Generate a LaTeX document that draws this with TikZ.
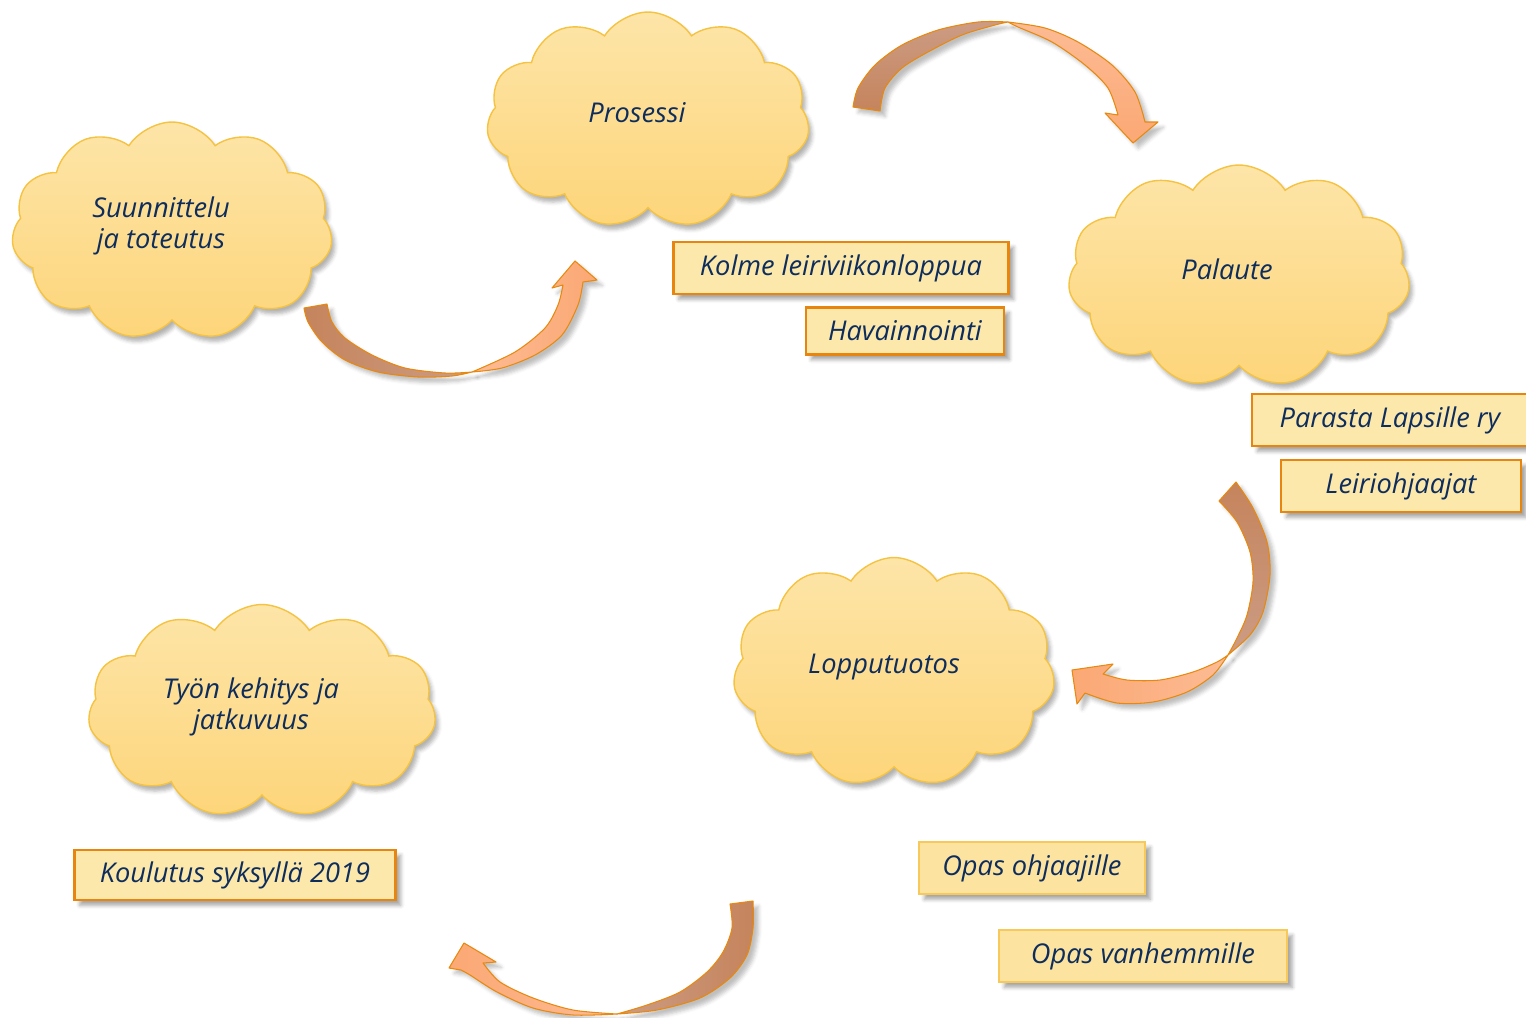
\documentclass[tikz,border=0pt]{standalone}
\usepackage{fontspec}
\setmainfont{Open Sans}
\usetikzlibrary{shapes.symbols, shadows.blur}
\definecolor{cloudtop}{HTML}{FDE5A8}
\definecolor{cloudbot}{HTML}{FDD57A}
\definecolor{cloudedge}{HTML}{F5C342}
\definecolor{textnavy}{HTML}{0E2D5C}
\definecolor{tagfill}{HTML}{FCE8AB}
\definecolor{tagedge}{HTML}{E8850F}
\definecolor{softfill}{HTML}{FCE3A0}
\definecolor{softedge}{HTML}{F7C95B}
\definecolor{arrdark}{HTML}{C5845C}
\definecolor{arrdarkb}{HTML}{CC9C84}
\definecolor{arrlight}{HTML}{FCBB94}
\definecolor{arrlightb}{HTML}{FBA874}
\definecolor{arredge}{HTML}{E8890E}

\begin{document}
\begin{tikzpicture}[x=0.02cm, y=-0.02cm,
    puff/.style={cloud, cloud puffs=11, cloud puff arc=115, draw=cloudedge, line width=0.8pt,
      top color=cloudtop, bottom color=cloudbot,
      blur shadow={shadow xshift=2pt, shadow yshift=-3pt, shadow opacity=30}},
    pufftext/.style={align=center, text=textnavy, font=\fontsize{15.5}{17.6}\selectfont\itshape},
    tag/.style={draw=tagedge, line width=1.6pt, fill=tagfill, text=textnavy,
      font=\fontsize{15.5}{17}\selectfont\itshape, minimum height=1.04cm,
      blur shadow={shadow xshift=3pt, shadow yshift=-3pt, shadow opacity=35}},
    softtag/.style={tag, draw=softedge, line width=1pt, fill=softfill},
    bandarrow/.style={draw=arredge, line width=0.6pt, line join=round,
      blur shadow={shadow xshift=3pt, shadow yshift=-3pt, shadow opacity=25}}]
    \useasboundingbox (0,0) rectangle (1526,1018);

    % clouds
    \node (suun) [puff, minimum width=6.42cm, minimum height=4.36cm] at (172,231) {};
    \node (pros) [puff, minimum width=6.46cm, minimum height=4.32cm] at (648,120) {};
    \node (pala) [puff, minimum width=6.84cm, minimum height=4.44cm] at (1239,276) {};
    \node (lopp) [puff, minimum width=6.44cm, minimum height=4.58cm] at (894,672) {};
    \node (tyon) [puff, minimum width=6.96cm, minimum height=4.26cm] at (262,711) {};
    \node (suuntxt) [pufftext] at (161,226) {Suunnittelu\\ja toteutus};
    \node (prostxt) [pufftext] at (637,113) {Prosessi};
    \node (palatxt) [pufftext] at (1227,269) {Palaute};
    \node (lopptxt) [pufftext] at (884,667) {Lopputuotos};
    \node (tyontxt) [pufftext] at (251,707) {Työn kehitys ja\\jatkuvuus};

    % boxes
    \node (kolm) [tag, minimum width=6.7cm] at (841,268) {Kolme leiriviikonloppua};
    \node (hava) [tag, minimum width=3.96cm, minimum height=0.94cm] at (905,331) {Havainnointi};
    \node (para) [tag, minimum width=5.52cm] at (1390,420) {Parasta Lapsille ry};
    \node (leir) [tag, minimum width=4.8cm] at (1401,486) {Leiriohjaajat};
    \node (koul) [tag, minimum width=6.42cm, minimum height=1.0cm] at (235,875) {Koulutus syksyllä 2019};
    \node (opoh) [softtag, minimum width=4.52cm] at (1032,868) {Opas ohjaajille};
    \node (opva) [softtag, minimum width=5.76cm] at (1143,956) {Opas vanhemmille};

    % arrow 1: suunnittelu -> prosessi
    \draw[bandarrow, left color=arrdark, right color=arrdarkb] (304,308) -- (327,304)
      -- plot[smooth] coordinates {(327,304) (332,322) (345,338) (372,355) (405,368) (445,373) (472,372)}
      -- plot[smooth] coordinates {(472,372) (452,376) (418,377) (378,372) (345,360) (322,342) (308,322) (304,308)} -- cycle;
    \draw[bandarrow, left color=arrlight, right color=arrlightb] (472,372)
      -- plot[smooth] coordinates {(472,372) (502,368) (535,355) (562,335) (578,305) (583,282)}
      -- (597,280) -- (575,261) -- (552,288) -- (563,285)
      -- plot[smooth] coordinates {(563,285) (558,305) (545,328) (515,352) (472,372)} -- cycle;
    % arrow 2: prosessi -> palaute
    \draw[bandarrow, top color=arrdarkb, bottom color=arrdark] (853,107) -- (880,111)
      -- plot[smooth] coordinates {(880,111) (885,88) (902,68) (928,52) (962,35) (995,25) (1008,22)}
      -- plot[smooth] coordinates {(1008,22) (978,22) (938,30) (902,45) (875,65) (858,88) (853,107)} -- cycle;
    \draw[bandarrow, top color=arrlight, bottom color=arrlightb] (1008,22)
      -- plot[smooth] coordinates {(1008,22) (1045,28) (1078,42) (1112,65) (1135,92) (1145,122)}
      -- (1158,122) -- (1133,143) -- (1105,113) -- (1118,115)
      -- plot[smooth] coordinates {(1118,115) (1108,88) (1085,65) (1052,42) (1018,27) (1008,22)} -- cycle;
    % arrow 3: palaute -> lopputuotos
    \draw[bandarrow, top color=arrdark, bottom color=arrdarkb] (1219,501) -- (1236,482)
      -- plot[smooth] coordinates {(1236,482) (1253,508) (1267,542) (1270,575) (1263,612) (1250,635) (1228,655)}
      -- plot[smooth] coordinates {(1228,655) (1237,638) (1247,615) (1253,582) (1250,552) (1237,522) (1219,501)} -- cycle;
    \draw[bandarrow, right color=arrlight, left color=arrlightb] (1228,655)
      -- plot[smooth] coordinates {(1228,655) (1213,675) (1187,692) (1153,702) (1117,703) (1085,693)}
      -- (1077,704) -- (1072,670) -- (1113,664) -- (1103,674)
      -- plot[smooth] coordinates {(1103,674) (1127,680) (1160,680) (1193,672) (1217,662) (1228,655)} -- cycle;
    % arrow 4: lopputuotos -> tyon kehitys
    \draw[bandarrow, right color=arrdark, left color=arrdarkb] (730,904) -- (753,901)
      -- plot[smooth] coordinates {(753,901) (753,928) (747,955) (730,978) (700,998) (657,1010) (617,1014)}
      -- plot[smooth] coordinates {(617,1014) (647,1005) (680,992) (707,972) (723,952) (732,928) (730,904)} -- cycle;
    \draw[bandarrow, right color=arrlight, left color=arrlightb] (617,1014)
      -- plot[smooth] coordinates {(617,1014) (573,1015) (533,1008) (497,992) (470,975) (461,970)}
      -- (449,968) -- (464,943) -- (496,962) -- (483,963)
      -- plot[smooth] coordinates {(483,963) (500,982) (533,998) (573,1010) (617,1014)} -- cycle;
\end{tikzpicture}
\end{document}
